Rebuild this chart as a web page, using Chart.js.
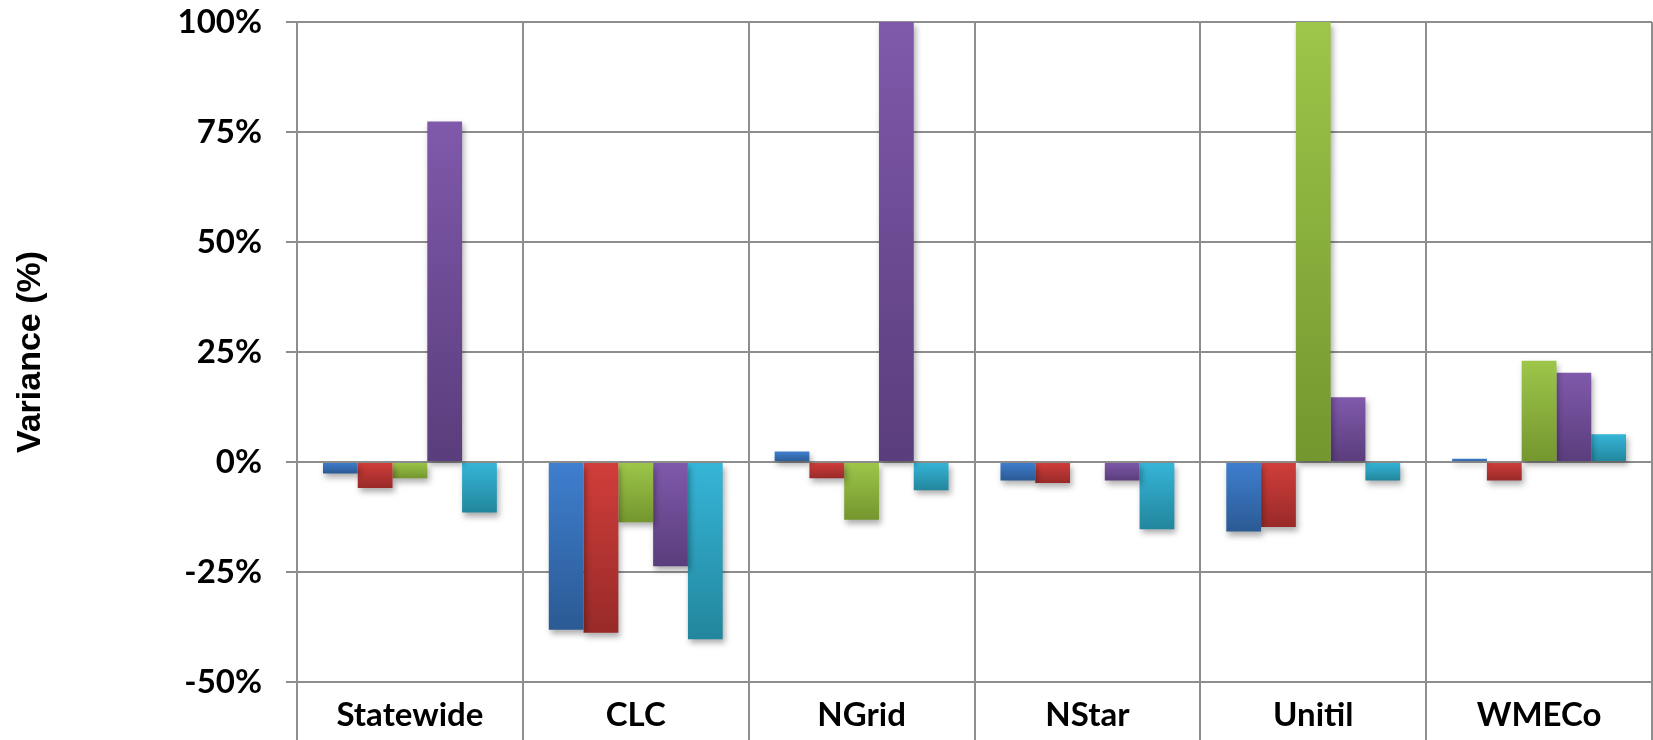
<!DOCTYPE html>
<html>
<head>
<meta charset="utf-8">
<script src="https://cdn.jsdelivr.net/npm/chart.js@4"></script>
<style>
    body { margin: 0; background: #fff; }
    #wrap { width: 1653px; height: 740px; position: relative; }
</style>
</head>
<body>
<div id="wrap"><canvas id="varianceChart"></canvas></div>
<script>
// Data (persen)
const categories = ['Statewide', 'CLC', 'NGrid', 'NStar', 'Unitil', 'WMECo'];
const series1 = [-2.6, -38.1, 2.4, -4.2, -15.8, 0.75];
const series2 = [-5.9, -38.8, -3.7, -4.8, -14.8, -4.2];
const series3 = [-3.7, -13.7, -13.1, 0, 100, 23.0];
const series4 = [77.4, -23.7, 100, -4.2, 14.7, 20.3];
const series5 = [-11.5, -40.3, -6.4, -15.3, -4.2, 6.3];
const yTicks = [-50, -25, 0, 25, 50, 75, 100];

// warna atas / bawah untuk gradien tiap seri
const colorsTop = ['#3f7fcf', '#d13e3b', '#9dc64a', '#8059ab', '#36b5d8'];
const colorsBottom = ['#2b5a94', '#982a28', '#74962e', '#5a3d7c', '#22869d'];

const gridColor = '#8e8e8e';

// Fungsi untuk membuat gradien vertikal per batang
function barFill(context, top, bottom) {
    const chart = context.chart;
    if (!chart.chartArea || !chart.scales.y) return bottom;
    const yScale = chart.scales.y;
    const v = Math.max(Math.min(context.raw, 100), -50);
    const p0 = yScale.getPixelForValue(0);
    const p1 = yScale.getPixelForValue(v);
    const y0 = Math.min(p0, p1), y1 = Math.max(p0, p1);
    if (y1 - y0 < 1) return top;
    const g = chart.ctx.createLinearGradient(0, y0, 0, y1);
    g.addColorStop(0, top);
    g.addColorStop(1, bottom);
    return g;
}

// Plugin bayangan di bawah batang
const barShadow = {
    id: 'barShadow',
    beforeDatasetsDraw(chart) {
        const ctx = chart.ctx;
        ctx.save();
        ctx.shadowColor = 'rgba(0, 0, 0, 0.32)';
        ctx.shadowBlur = 6;
        ctx.shadowOffsetX = 2;
        ctx.shadowOffsetY = 4;
    },
    afterDatasetsDraw(chart) {
        chart.ctx.restore();
    }
};

// Garis pemisah kategori diteruskan sampai bawah (area label)
const categoryLines = {
    id: 'categoryLines',
    afterDraw(chart) {
        const ctx = chart.ctx;
        const xs = chart.scales.x;
        const area = chart.chartArea;
        const n = chart.data.labels.length;
        ctx.save();
        ctx.strokeStyle = gridColor;
        ctx.lineWidth = 2;
        for (let i = 0; i <= n; i++) {
            let x;
            if (i === 0) x = area.left;
            else if (i === n) x = area.right;
            else x = (xs.getPixelForTick(i - 1) + xs.getPixelForTick(i)) / 2;
            x = Math.round(x);
            ctx.beginPath();
            ctx.moveTo(x, area.bottom);
            ctx.lineTo(x, chart.height);
            ctx.stroke();
        }
        ctx.restore();
    }
};

const allSeries = [series1, series2, series3, series4, series5];
const datasets = allSeries.map((values, i) => ({
    label: 'Series ' + (i + 1),
    data: values,
    backgroundColor: ctx => barFill(ctx, colorsTop[i], colorsBottom[i]),
    borderWidth: 0,
    barPercentage: 1.0,
    categoryPercentage: 0.77
}));

new Chart(document.getElementById('varianceChart'), {
    type: 'bar',
    data: { labels: categories, datasets: datasets },
    plugins: [barShadow, categoryLines],
    options: {
        responsive: true,
        maintainAspectRatio: false,
        animation: false,
        layout: { padding: { top: 22, right: 1, bottom: 0, left: 0 } },
        plugins: {
            legend: { display: false },
            tooltip: { enabled: false }
        },
        scales: {
            x: {
                afterFit: scale => {
                    scale.height = 58;
                    scale.paddingLeft = 0;
                    scale.paddingRight = 0;
                },
                grid: {
                    offset: true,
                    color: gridColor,
                    lineWidth: 2,
                    drawTicks: false
                },
                border: { display: false },
                ticks: {
                    color: '#000',
                    padding: 14,
                    maxRotation: 0,
                    autoSkip: false,
                    font: { family: 'Lato', size: 33, weight: 'bold' }
                }
            },
            y: {
                min: -50,
                max: 100,
                afterBuildTicks: scale => {
                    scale.ticks = yTicks.map(v => ({ value: v }));
                },
                afterFit: scale => {
                    scale.width = 297;
                    scale.paddingTop = 0;
                    scale.paddingBottom = 0;
                },
                grid: {
                    color: gridColor,
                    lineWidth: 2,
                    tickLength: 11
                },
                border: { display: true, color: gridColor, width: 2 },
                ticks: {
                    color: '#000',
                    padding: 24,
                    font: { family: 'Lato', size: 33, weight: 'bold' },
                    callback: v => v + '%'
                },
                title: {
                    display: true,
                    text: 'Variance (%)',
                    color: '#000',
                    padding: { top: 10, bottom: 0 },
                    font: { family: 'Liberation Sans', size: 34, weight: 'bold' }
                }
            }
        }
    }
});
</script>
</body>
</html>
